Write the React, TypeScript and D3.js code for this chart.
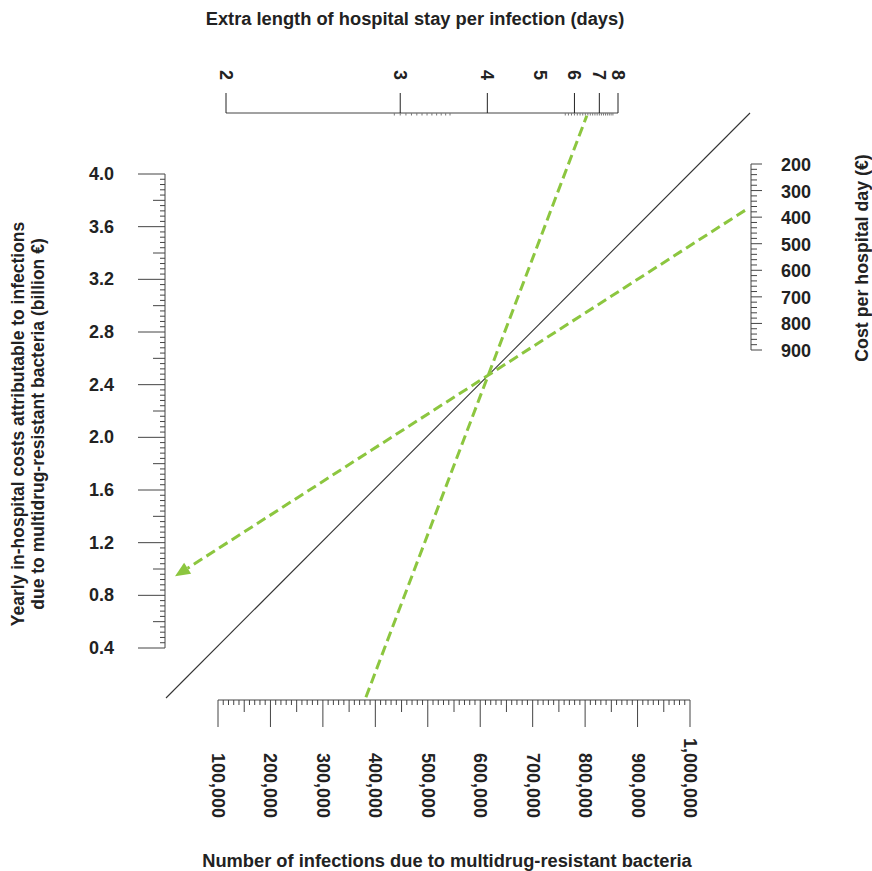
import * as d3 from "d3";
import { useEffect, useRef } from "react";

// axis tick values
const infectionTicks = [100000, 200000, 300000, 400000, 500000, 600000, 700000, 800000, 900000, 1000000];
const infectionLabels = ["100,000", "200,000", "300,000", "400,000", "500,000", "600,000", "700,000", "800,000", "900,000", "1,000,000"];
const dayTicks = [2, 3, 4, 6, 7, 8];
const dayLabels = [2, 3, 4, 5, 6, 7, 8];
const costTicks = [200, 300, 400, 500, 600, 700, 800, 900];
const billionTicks = [4.0, 3.6, 3.2, 2.8, 2.4, 2.0, 1.6, 1.2, 0.8, 0.4];

// worked example drawn on the nomogram
const exampleInfections = [380000];
const exampleDays = [6.5];
const exampleCost = [360];

const FONT = "'Liberation Sans', Arial, Helvetica, sans-serif";
const GREEN = "#8cc63f";

export default function App() {
  const ref = useRef<SVGSVGElement>(null);

  useEffect(() => {
    const svg = d3.select(ref.current);
    svg.selectAll("*").remove();

    const width = 872;
    const height = 871;
    svg.attr("width", width).attr("height", height);

    const leftX = 165;
    const rightX = 751;
    const topY = 113;
    const bottomY = 700;

    const yBillion = d3.scaleLinear().domain([0.4, 4.0]).range([648, 174]);
    const xInf = d3.scaleLinear().domain([100000, 1000000]).range([218, 690]);
    const xRecip = d3.scaleLinear().domain([1 / 2, 1 / 8]).range([226, 618]);
    const xDays = (d: number) => xRecip(1 / d);
    const yCost = d3.scaleLinear().domain([200, 900]).range([164, 350]);

    const axisColor = "#444";

    // ---- left axis (billion €)
    const left = svg.append("g");
    left.append("line")
      .attr("x1", leftX).attr("x2", leftX)
      .attr("y1", yBillion(4.0)).attr("y2", yBillion(0.4))
      .attr("stroke", axisColor);
    left.selectAll("line.t")
      .data(d3.range(10, 101))
      .join("line")
      .attr("class", "t")
      .attr("x1", i => (i % 10 === 0 ? leftX - 27 : i % 5 === 0 ? leftX - 12 : leftX - 5))
      .attr("x2", leftX)
      .attr("y1", i => yBillion(i * 0.04))
      .attr("y2", i => yBillion(i * 0.04))
      .attr("stroke", axisColor);
    left.selectAll("text")
      .data(billionTicks)
      .join("text")
      .attr("x", 114)
      .attr("y", d => yBillion(d))
      .attr("text-anchor", "end")
      .attr("dominant-baseline", "central")
      .text(d => d.toFixed(1));

    // ---- bottom axis (infections)
    const bottom = svg.append("g");
    bottom.append("line")
      .attr("x1", xInf(100000)).attr("x2", xInf(1000000))
      .attr("y1", bottomY).attr("y2", bottomY)
      .attr("stroke", axisColor);
    bottom.selectAll("line.t")
      .data(d3.range(10, 101))
      .join("line")
      .attr("class", "t")
      .attr("x1", i => xInf(i * 10000))
      .attr("x2", i => xInf(i * 10000))
      .attr("y1", bottomY)
      .attr("y2", i => (i % 10 === 0 ? bottomY + 27 : i % 5 === 0 ? bottomY + 12 : bottomY + 5))
      .attr("stroke", axisColor);
    bottom.selectAll("text")
      .data(infectionTicks)
      .join("text")
      .attr("transform", d => `translate(${xInf(d)},818) rotate(90)`)
      .attr("text-anchor", "end")
      .attr("dominant-baseline", "central")
      .text((d, i) => infectionLabels[i]);

    // ---- top axis (days, reciprocal)
    const top = svg.append("g");
    top.append("line")
      .attr("x1", xDays(2)).attr("x2", xDays(8))
      .attr("y1", topY).attr("y2", topY)
      .attr("stroke", axisColor);
    top.selectAll("line.major")
      .data(dayTicks)
      .join("line")
      .attr("class", "major")
      .attr("x1", d => xDays(d)).attr("x2", d => xDays(d))
      .attr("y1", topY - 20).attr("y2", topY)
      .attr("stroke", "#222");
    const dayMinor = d3.range(59, 71).map(i => i * 0.05)
      .concat(d3.range(57, 78).map(i => i / 10));
    top.selectAll("line.minor")
      .data(dayMinor)
      .join("line")
      .attr("class", "minor")
      .attr("x1", d => xDays(d)).attr("x2", d => xDays(d))
      .attr("y1", topY).attr("y2", topY + 2.5)
      .attr("stroke", "#777");
    top.selectAll("text")
      .data(dayLabels)
      .join("text")
      .attr("transform", d => `translate(${xDays(d)},80) rotate(90)`)
      .attr("text-anchor", "end")
      .attr("dominant-baseline", "central")
      .text(d => d);

    // ---- right axis (cost per day)
    const right = svg.append("g");
    right.append("line")
      .attr("x1", rightX).attr("x2", rightX)
      .attr("y1", yCost(200)).attr("y2", yCost(900))
      .attr("stroke", axisColor);
    right.selectAll("line.t")
      .data(d3.range(10, 46))
      .join("line")
      .attr("class", "t")
      .attr("x1", rightX)
      .attr("x2", i => (i % 5 === 0 ? rightX + 11 : rightX + 6))
      .attr("y1", i => yCost(i * 20))
      .attr("y2", i => yCost(i * 20))
      .attr("stroke", axisColor);
    right.selectAll("text")
      .data(costTicks)
      .join("text")
      .attr("x", 781)
      .attr("y", d => yCost(d) + 1)
      .attr("text-anchor", "start")
      .attr("dominant-baseline", "central")
      .text(d => d);

    svg.selectAll("text")
      .attr("font-family", FONT)
      .attr("font-weight", "bold")
      .attr("font-size", 18)
      .attr("fill", "#222");

    // ---- diagonal pivot line
    const diagA: [number, number] = [leftX + 1, bottomY - 2];
    const diagB: [number, number] = [rightX - 1, topY];
    svg.append("line")
      .attr("x1", diagA[0]).attr("y1", diagA[1])
      .attr("x2", diagB[0]).attr("y2", diagB[1])
      .attr("stroke", "#333")
      .attr("stroke-width", 1.1);

    // ---- worked example
    const nP: [number, number] = [xInf(exampleInfections[0]), bottomY];
    const dP: [number, number] = [xDays(exampleDays[0]), topY];
    const cP: [number, number] = [rightX, yCost(exampleCost[0])];

    // intersection of two lines
    const intersect = (p1, p2, p3, p4) => {
      const d = (p1[0] - p2[0]) * (p3[1] - p4[1]) - (p1[1] - p2[1]) * (p3[0] - p4[0]);
      const a = p1[0] * p2[1] - p1[1] * p2[0];
      const b = p3[0] * p4[1] - p3[1] * p4[0];
      return [
        (a * (p3[0] - p4[0]) - (p1[0] - p2[0]) * b) / d,
        (a * (p3[1] - p4[1]) - (p1[1] - p2[1]) * b) / d,
      ];
    };
    const pivot = intersect(nP, dP, diagA, diagB);

    const lerp = (p, q, t) => [p[0] + (q[0] - p[0]) * t, p[1] + (q[1] - p[1]) * t];
    const steepLen = Math.hypot(dP[0] - nP[0], dP[1] - nP[1]);
    const s0 = lerp(nP, dP, 3 / steepLen);
    const s1 = lerp(nP, dP, 1 - 3 / steepLen);

    svg.append("line")
      .attr("x1", s0[0]).attr("y1", s0[1])
      .attr("x2", s1[0]).attr("y2", s1[1])
      .attr("stroke", GREEN)
      .attr("stroke-width", 3)
      .attr("stroke-dasharray", "10 5");

    // from cost axis through pivot to left axis
    const tipX = leftX + 10;
    const slope = (pivot[1] - cP[1]) / (pivot[0] - cP[0]);
    const tip = [tipX, cP[1] + slope * (tipX - cP[0])];
    const startP = [cP[0] - 6, cP[1] - slope * 6];
    const len = Math.hypot(startP[0] - tip[0], startP[1] - tip[1]);
    const ux = (tip[0] - startP[0]) / len;
    const uy = (tip[1] - startP[1]) / len;
    const headLen = 15;
    const headW = 6.5;
    const base = [tip[0] - ux * headLen, tip[1] - uy * headLen];

    svg.append("line")
      .attr("x1", startP[0]).attr("y1", startP[1])
      .attr("x2", base[0]).attr("y2", base[1])
      .attr("stroke", GREEN)
      .attr("stroke-width", 3)
      .attr("stroke-dasharray", "10 5");

    svg.append("path")
      .attr("d", d3.line()([
        [tip[0], tip[1]],
        [base[0] - uy * headW, base[1] + ux * headW],
        [base[0] + uy * headW, base[1] - ux * headW],
      ]) + "Z")
      .attr("fill", GREEN);

    // ---- axis titles
    const titles = svg.append("g")
      .attr("font-family", FONT)
      .attr("font-weight", "bold")
      .attr("fill", "#222");
    titles.append("text")
      .attr("x", 415).attr("y", 18)
      .attr("font-size", 18.3)
      .attr("text-anchor", "middle")
      .attr("dominant-baseline", "central")
      .text("Extra length of hospital stay per infection (days)");
    titles.append("text")
      .attr("x", 447).attr("y", 860)
      .attr("font-size", 18.3)
      .attr("text-anchor", "middle")
      .attr("dominant-baseline", "central")
      .text("Number of infections due to multidrug-resistant bacteria");
    titles.append("text")
      .attr("transform", "translate(18,424) rotate(-90)")
      .attr("font-size", 17.5)
      .attr("text-anchor", "middle")
      .attr("dominant-baseline", "central")
      .text("Yearly in-hospital costs attributable to infections");
    titles.append("text")
      .attr("transform", "translate(38,424) rotate(-90)")
      .attr("font-size", 17.5)
      .attr("text-anchor", "middle")
      .attr("dominant-baseline", "central")
      .text("due to multidrug-resistant bacteria (billion €)");
    titles.append("text")
      .attr("transform", "translate(862,258) rotate(-90)")
      .attr("font-size", 17.8)
      .attr("text-anchor", "middle")
      .attr("dominant-baseline", "central")
      .text("Cost per hospital day (€)");
  }, []);

  return (
    <div style={{ position: "absolute", left: 0, top: 0 }}>
      <svg ref={ref} style={{ display: "block", background: "white" }}></svg>
    </div>
  );
}
